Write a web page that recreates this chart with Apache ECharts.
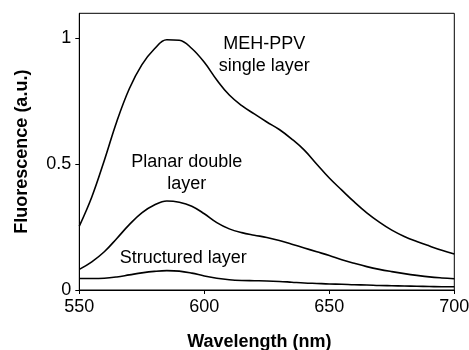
<!DOCTYPE html>
<html>
<head>
<meta charset="utf-8">
<script src="https://cdn.jsdelivr.net/npm/echarts@6/dist/echarts.min.js"></script>
<style>
html,body{margin:0;padding:0;background:#fff;}
#chart{width:469px;height:350px;}
</style>
</head>
<body>
<div id="chart"></div>
<script>
var wavelengths = [550,555,560,565,570,575,580,585,590,595,600,605,610,615,620,625,630,635,640,645,650,655,660,665,670,675,680,685,690,695,700];
var singleLayer = [0.254,0.37,0.515,0.67,0.80,0.895,0.958,0.995,0.993,0.96,0.905,0.835,0.775,0.733,0.70,0.668,0.638,0.60,0.556,0.50,0.445,0.397,0.35,0.307,0.27,0.238,0.213,0.193,0.175,0.158,0.143];
var planarDouble = [0.082,0.112,0.152,0.205,0.26,0.307,0.338,0.354,0.349,0.333,0.303,0.268,0.243,0.228,0.218,0.209,0.197,0.182,0.167,0.152,0.137,0.12,0.106,0.093,0.082,0.073,0.065,0.058,0.052,0.048,0.045];
var structured = [0.046,0.046,0.047,0.052,0.06,0.068,0.074,0.077,0.075,0.067,0.056,0.047,0.041,0.038,0.037,0.036,0.034,0.031,0.028,0.026,0.024,0.023,0.021,0.02,0.018,0.017,0.016,0.015,0.014,0.013,0.013];
var yTicks = [0, 0.5, 1];
var xTicks = [550, 600, 650, 700];
var annotations = [
  {text: 'MEH-PPV\nsingle layer', x: 624, y: 0.936},
  {text: 'Planar double\nlayer', x: 593, y: 0.464},
  {text: 'Structured layer', x: 591.6, y: 0.126}
];

function pairs(vals){ return wavelengths.map(function(w,i){ return [w, vals[i]]; }); }
var FONT = '"Liberation Sans", Arial, sans-serif';

var chart = echarts.init(document.getElementById('chart'));
var lineStyle = {color:'#000', width:1.6};
chart.setOption({
  animation:false,
  backgroundColor:'#fff',
  grid:{left:79.3, right:14.7, top:13.3, bottom:60, show:true, borderColor:'#000', borderWidth:1, backgroundColor:'transparent', containLabel:false, outerBoundsMode:'none'},
  xAxis:{
    type:'value', min:550, max:700, interval:50,
    name:'Wavelength (nm)', nameLocation:'middle', nameGap:43,
    nameTextStyle:{fontFamily:FONT, fontWeight:'bold', fontSize:18, color:'#000', padding:[0,15,0,0]},
    axisLine:{lineStyle:{color:'#000', width:1}},
    axisTick:{show:true, length:4, lineStyle:{color:'#000'}, customValues:xTicks},
    axisLabel:{fontFamily:FONT, fontSize:18, color:'#000', margin:8, customValues:xTicks},
    splitLine:{show:false}
  },
  yAxis:{
    type:'value', min:0, max:1.1,
    name:'Fluorescence (a.u.)', nameLocation:'middle', nameGap:48,
    nameTextStyle:{fontFamily:FONT, fontWeight:'bold', fontSize:18, color:'#000'},
    axisLine:{show:true, lineStyle:{color:'#000', width:1}},
    axisTick:{show:true, length:4, lineStyle:{color:'#000'}, customValues:yTicks},
    axisLabel:{fontFamily:FONT, fontSize:18, color:'#000', margin:8, customValues:yTicks,
      formatter:function(v){ return String(v); }},
    splitLine:{show:false}
  },
  series:[
    {type:'line', data:pairs(singleLayer), smooth:0.4, symbol:'none', lineStyle:lineStyle,
     markPoint:{symbol:'circle', symbolSize:0, silent:true,
       label:{show:true, position:'inside', fontFamily:FONT, fontSize:18, lineHeight:22, color:'#000', align:'center', verticalAlign:'middle'},
       data:annotations.map(function(a){ return {coord:[a.x, a.y], value:a.text, label:{formatter:a.text}}; })}},
    {type:'line', data:pairs(planarDouble), smooth:0.4, symbol:'none', lineStyle:lineStyle},
    {type:'line', data:pairs(structured), smooth:0.4, symbol:'none', lineStyle:lineStyle}
  ]
});
</script>
</body>
</html>
